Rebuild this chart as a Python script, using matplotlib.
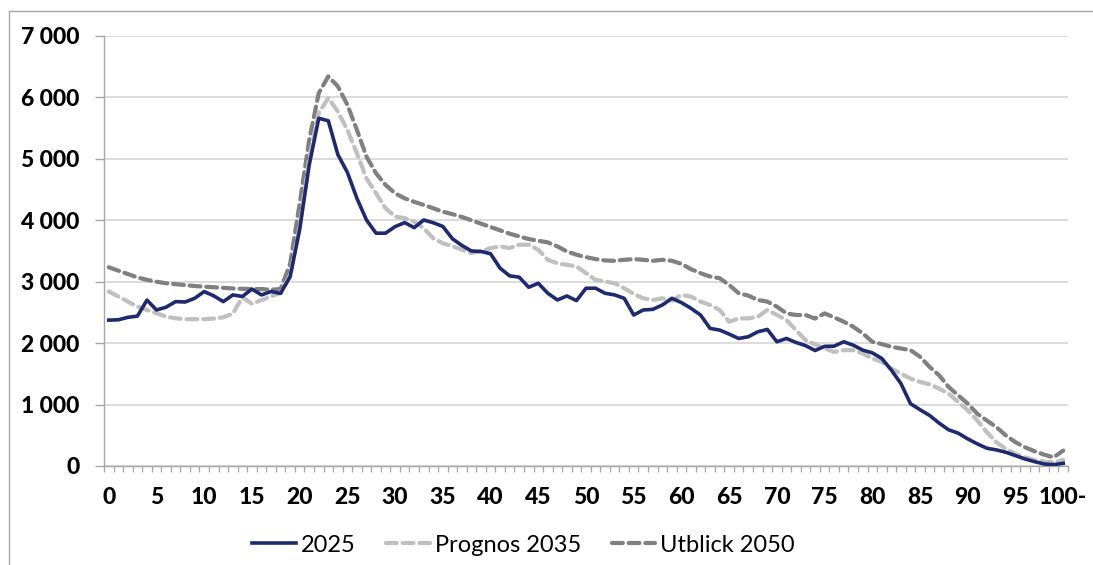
import matplotlib
matplotlib.use("Agg")
import matplotlib.pyplot as plt
from matplotlib.patches import Rectangle
from matplotlib.ticker import FixedLocator, FuncFormatter
import numpy as np

ages = list(range(101))
tick_labels = [str(a) if a < 100 else "100-" for a in range(0, 101, 5)]

s2025 = [2375, 2380, 2420, 2440, 2700, 2540, 2585, 2676, 2670, 2730,
         2840, 2770, 2676, 2785, 2760, 2880, 2785, 2840, 2810, 3080,
         3850, 4900, 5660, 5620, 5070, 4780, 4357, 4005, 3790, 3790,
         3897, 3962, 3880, 4005, 3960, 3900, 3700, 3590, 3500, 3493,
         3455, 3220, 3095, 3074, 2910, 2975, 2812, 2703, 2768, 2692,
         2894, 2894, 2812, 2785, 2730, 2458, 2540, 2550, 2621, 2730,
         2660, 2567, 2458, 2240, 2213, 2147, 2076, 2104, 2185, 2223,
         2022, 2076, 2011, 1960, 1880, 1948, 1951, 2022, 1967, 1886,
         1842, 1750, 1559, 1341, 1014, 916, 823, 698, 589, 534,
         441, 360, 289, 262, 223, 169, 114, 71, 33, 22,
         44]

s2035 = [2840, 2760, 2676, 2595, 2540, 2487, 2432, 2405, 2390, 2390,
         2390, 2400, 2420, 2480, 2750, 2640, 2700, 2760, 2820, 3100,
         3900, 5000, 5750, 5990, 5770, 5470, 5090, 4680, 4440, 4195,
         4060, 4035, 3978, 3870, 3706, 3625, 3580, 3520, 3466, 3493,
         3548, 3575, 3548, 3602, 3602, 3520, 3357, 3300, 3275, 3248,
         3139, 3030, 3003, 2975, 2894, 2800, 2730, 2703, 2730, 2692,
         2785, 2758, 2676, 2621, 2540, 2349, 2403, 2403, 2430, 2540,
         2458, 2376, 2213, 2049, 1980, 1913, 1858, 1886, 1886, 1831,
         1750, 1695, 1586, 1504, 1422, 1368, 1330, 1259, 1177, 1041,
         905, 741, 550, 387, 278, 196, 141, 98, 71, 60,
         98]

s2050 = [3235, 3180, 3125, 3070, 3030, 3000, 2975, 2960, 2945, 2930,
         2920, 2910, 2900, 2890, 2885, 2880, 2880, 2870, 2880, 3290,
         4272, 5308, 6070, 6343, 6180, 5880, 5470, 5037, 4765, 4575,
         4440, 4357, 4300, 4250, 4195, 4140, 4100, 4054, 4000, 3945,
         3891, 3836, 3782, 3738, 3695, 3667, 3640, 3575, 3493, 3439,
         3400, 3368, 3346, 3340, 3357, 3368, 3357, 3340, 3357, 3340,
         3291, 3204, 3139, 3084, 3057, 2948, 2812, 2774, 2703, 2676,
         2594, 2485, 2458, 2458, 2400, 2485, 2419, 2349, 2267, 2158,
         2022, 1984, 1940, 1913, 1886, 1777, 1613, 1477, 1286, 1150,
         1014, 850, 741, 632, 496, 387, 305, 240, 185, 141,
         251]

series_names = ["2025", "Prognos 2035", "Utblick 2050"]

W, H = 1093, 565
fig = plt.figure(figsize=(W / 100, H / 100), dpi=100)
fig.patches.append(Rectangle((9 / W, -0.1), 1.2, 1.1 - 11 / H, transform=fig.transFigure,
                             fill=False, edgecolor="#A6A6A6", linewidth=1.0))

ax = fig.add_axes([104 / W, (H - 466) / H, (1068 - 104) / W, (466 - 36) / H])

ax.plot(ages, s2050, color="#808080", lw=3.0, dashes=(2.6, 1.4), dash_capstyle="round",
        label=series_names[2], zorder=3)
ax.plot(ages, s2035, color="#C0C0C0", lw=3.0, dashes=(2.6, 1.4), dash_capstyle="round",
        label=series_names[1], zorder=4)
ax.plot(ages, s2025, color="#1F2A6E", lw=2.6, solid_joinstyle="round",
        label=series_names[0], zorder=5)

ax.set_xlim(-0.5, 100.5)
ax.set_ylim(0, 7000)

ax.yaxis.set_major_locator(FixedLocator(np.arange(0, 7001, 1000)))
ax.yaxis.set_major_formatter(FuncFormatter(lambda v, p: f"{int(v):,}".replace(",", " ")))
ax.grid(axis="y", color="#D9D9D9", linewidth=1.3, zorder=0)
ax.set_axisbelow(True)

ax.set_xticks(list(range(0, 101, 5)))
ax.set_xticklabels(tick_labels)
ax.set_xticks(np.arange(-0.5, 101, 1.0), minor=True)

for sp in ["top", "right"]:
    ax.spines[sp].set_visible(False)
for sp in ["left", "bottom"]:
    ax.spines[sp].set_color("#A6A6A6")
    ax.spines[sp].set_linewidth(1.0)

fontname = "Lato"
ax.tick_params(axis="y", which="major", length=6.5, width=1.0, color="#A6A6A6", pad=11,
               labelsize=16.5)
ax.tick_params(axis="x", which="major", length=0, pad=15, labelsize=16.5)
ax.tick_params(axis="x", which="minor", length=4.5, width=0.9, color="#A6A6A6", direction="out")
for lab in ax.get_xticklabels() + ax.get_yticklabels():
    lab.set_fontfamily(fontname)
    lab.set_fontweight(900)

handles, labels = ax.get_legend_handles_labels()
order = [2, 1, 0]
leg = fig.legend([handles[i] for i in order], [labels[i] for i in order],
                 loc="center", bbox_to_anchor=(0.479, 0.035), ncol=3, frameon=False,
                 handlelength=1.85, handletextpad=0.2, columnspacing=1.3,
                 prop={"family": fontname, "size": 17})

fig.savefig("out.png", dpi=100)
